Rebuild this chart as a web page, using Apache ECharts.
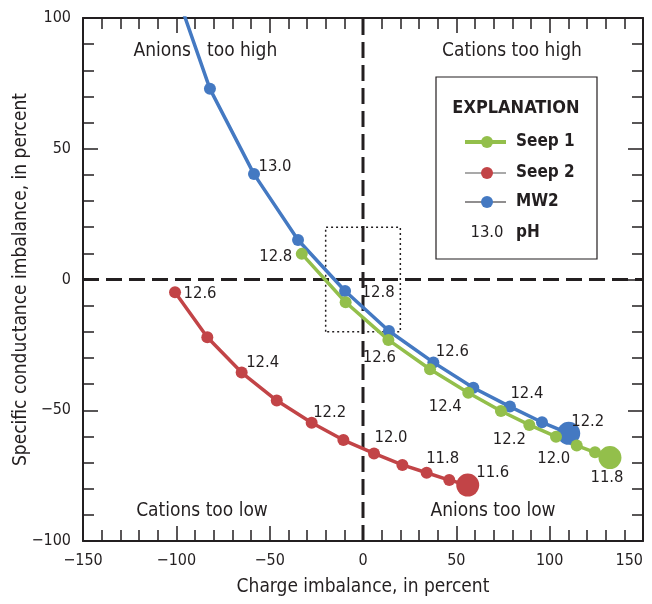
<!DOCTYPE html>
<html>
<head>
<meta charset="utf-8">
<script src="https://cdn.jsdelivr.net/npm/echarts@6/dist/echarts.min.js"></script>
<style>html,body{margin:0;padding:0;background:#fff}#c{width:652px;height:604px}</style>
</head>
<body>
<div id="c"></div>
<script>
// ---- data ----
const xTicks = [-150, -100, -50, 0, 50, 100, 150];
const yTicks = [-100, -50, 0, 50, 100];
const xAxisTitle = 'Charge imbalance, in percent';
const yAxisTitle = 'Specific conductance imbalance, in percent';

const seriesNames = ['Seep 1', 'Seep 2', 'MW2'];

const mw2X = [-104, -82, -58.4, -34.8, -9.6, 13.9, 37.7, 59.1, 78.7, 95.9, 110.2];
const mw2Y = [118, 72.9, 40.3, 15.1, -4.4, -19.7, -31.7, -41.4, -48.6, -54.6, -58.8];
const mw2PH = [null, null, '13.0', null, '12.8', null, '12.6', null, '12.4', null, '12.2'];

const seep1X = [-32.8, -9.3, 13.6, 35.9, 56.4, 73.9, 89.1, 103.4, 114.5, 124.3, 132.3];
const seep1Y = [9.8, -8.7, -23.1, -34.3, -43.3, -50.3, -55.6, -60.1, -63.5, -66.1, -68.1];
const seep1PH = ['12.8', null, '12.6', null, '12.4', null, '12.2', null, '12.0', null, '11.8'];

const seep2X = [-100.7, -83.4, -65.0, -46.2, -27.5, -10.5, 5.9, 21.1, 34.1, 46.2, 56.1];
const seep2Y = [-4.9, -22.1, -35.6, -46.3, -54.8, -61.4, -66.5, -70.9, -73.9, -76.7, -78.6];
const seep2PH = ['12.6', null, '12.4', null, '12.2', null, '12.0', null, '11.8', null, '11.6'];

const zeroV = [[0, -100], [0, 100]];
const zeroH = [[-150, 0], [150, 0]];
const boxCorners = [[-20, -20], [-20, 20], [20, 20], [20, -20], [-20, -20]];

const quadrantTexts = ['Anions', 'too high', 'Cations too high', 'Cations too low', 'Anions too low'];
const legendTitle = 'EXPLANATION';
const legendPHSample = '13.0';
const legendPHText = 'pH';

// ---- styles ----
const FONT = "'Liberation Sans Narrow', 'Arial Narrow', 'DejaVu Sans Condensed', sans-serif";
const INK = '#231f20';
const BLUE = '#4479c2';
const GREEN = '#93bf4b';
const RED = '#c24447';

const labelOffsets = {
  mw2: {2: [21, -7], 4: [33, 2], 6: [19, -11], 8: [17, -13], 10: [19, -12]},
  seep1: {0: [-26, 3], 2: [-9, 18], 4: [-23, 14], 6: [-20, 15], 8: [-23, 13], 10: [-3, 20]},
  seep2: {0: [25, 1], 2: [21, -10], 4: [18, -10], 6: [17, -16], 8: [16, -14], 10: [25, -12]}
};

function buildData(xs, ys, phs, key) {
  return xs.map((x, i) => {
    const item = {value: [x, ys[i]]};
    if (phs[i]) {
      item.label = {
        show: true, formatter: phs[i], position: 'inside',
        offset: labelOffsets[key][i],
        fontFamily: FONT, fontSize: 16.5, color: INK
      };
    }
    return item;
  });
}

function fmt(v) { return String(v).replace('-', '\u2212'); }

function axisCommon(showLabel) {
  return {
    axisLine: {show: true, onZero: false, lineStyle: {color: INK, width: 2}},
    axisTick: {show: true, inside: true, length: 15, lineStyle: {color: INK, width: 1.5}},
    minorTick: {show: true, splitNumber: 5, length: 11, lineStyle: {color: INK, width: 1.5}},
    splitLine: {show: false},
    minorSplitLine: {show: false},
    axisLabel: {show: showLabel, fontFamily: FONT, fontSize: 16, color: INK, margin: 12, formatter: fmt}
  };
}

function lineSeries(name, data, color, width) {
  const last = data.length - 1;
  return {
    name, type: 'line', data, clip: true, smooth: false,
    symbol: 'circle',
    symbolSize: (v, p) => p.dataIndex === last ? 23 : 12,
    itemStyle: {color},
    lineStyle: {color, width},
    emphasis: {disabled: true},
    label: {show: false},
    z: 3
  };
}

const chart = echarts.init(document.getElementById('c'), null, {renderer: 'canvas'});

const xBottom = Object.assign({type: 'value', min: xTicks[0], max: xTicks[xTicks.length - 1], interval: 50, position: 'bottom',
  name: xAxisTitle, nameLocation: 'middle', nameGap: 37, nameMoveOverlap: false,
  nameTextStyle: {fontFamily: FONT, fontSize: 19, color: INK}}, axisCommon(true));
xBottom.axisLabel.alignMaxLabel = 'right';

const option = {
  animation: false,
  backgroundColor: '#fff',
  grid: {left: 83, right: 9, top: 18, bottom: 63, containLabel: false, outerBoundsMode: 'none'},
  xAxis: [
    xBottom,
    Object.assign({type: 'value', min: xTicks[0], max: xTicks[xTicks.length - 1], interval: 50, position: 'top'}, axisCommon(false))
  ],
  yAxis: [
    Object.assign({type: 'value', min: yTicks[0], max: yTicks[yTicks.length - 1], interval: 50, position: 'left',
      name: yAxisTitle, nameLocation: 'middle', nameGap: 52, nameMoveOverlap: false,
      nameTextStyle: {fontFamily: FONT, fontSize: 19, color: INK}}, axisCommon(true)),
    Object.assign({type: 'value', min: yTicks[0], max: yTicks[yTicks.length - 1], interval: 50, position: 'right'}, axisCommon(false))
  ],
  series: [
    {type: 'line', data: zeroH, symbol: 'none', lineStyle: {color: INK, width: 3, type: [16, 7]}, silent: true, z: 1},
    {type: 'line', data: zeroV, symbol: 'none', lineStyle: {color: INK, width: 3, type: [16, 7]}, silent: true, z: 1},
    {type: 'line', data: boxCorners, symbol: 'none', lineStyle: {color: INK, width: 1.5, type: [2, 3]}, silent: true, z: 1},
    lineSeries(seriesNames[1], buildData(seep2X, seep2Y, seep2PH, 'seep2'), RED, 3.5),
    lineSeries(seriesNames[2], buildData(mw2X, mw2Y, mw2PH, 'mw2'), BLUE, 3.5),
    lineSeries(seriesNames[0], buildData(seep1X, seep1Y, seep1PH, 'seep1'), GREEN, 3.5)
  ],
  graphic: [
    {type: 'text', x: 191, y: 51, style: {text: quadrantTexts[0], align: 'right', verticalAlign: 'middle', font: '19px ' + FONT, fill: INK}},
    {type: 'text', x: 207, y: 51, style: {text: quadrantTexts[1], align: 'left', verticalAlign: 'middle', font: '19px ' + FONT, fill: INK}},
    {type: 'text', x: 512, y: 51, style: {text: quadrantTexts[2], align: 'center', verticalAlign: 'middle', font: '19px ' + FONT, fill: INK}},
    {type: 'text', x: 202, y: 511, style: {text: quadrantTexts[3], align: 'center', verticalAlign: 'middle', font: '19px ' + FONT, fill: INK}},
    {type: 'text', x: 493, y: 511, style: {text: quadrantTexts[4], align: 'center', verticalAlign: 'middle', font: '19px ' + FONT, fill: INK}},

    {type: 'rect', shape: {x: 436, y: 77, width: 161, height: 182}, style: {fill: '#fff', stroke: INK, lineWidth: 1.2}, z: 10},
    {type: 'text', x: 516, y: 108, z: 11, style: {text: legendTitle, align: 'center', verticalAlign: 'middle', font: 'bold 18px ' + FONT, fill: INK}},

    {type: 'line', z: 11, shape: {x1: 465, y1: 142, x2: 506, y2: 142}, style: {stroke: GREEN, lineWidth: 4}},
    {type: 'circle', z: 12, shape: {cx: 487, cy: 142, r: 6}, style: {fill: GREEN}},
    {type: 'text', x: 516, y: 142, z: 11, style: {text: seriesNames[0], align: 'left', verticalAlign: 'middle', font: 'bold 17px ' + FONT, fill: INK}},

    {type: 'line', z: 11, shape: {x1: 465, y1: 173, x2: 506, y2: 173}, style: {stroke: '#555', lineWidth: 1.2}},
    {type: 'circle', z: 12, shape: {cx: 487, cy: 173, r: 6}, style: {fill: RED}},
    {type: 'text', x: 516, y: 173, z: 11, style: {text: seriesNames[1], align: 'left', verticalAlign: 'middle', font: 'bold 17px ' + FONT, fill: INK}},

    {type: 'line', z: 11, shape: {x1: 465, y1: 202, x2: 506, y2: 202}, style: {stroke: INK, lineWidth: 1.2}},
    {type: 'circle', z: 12, shape: {cx: 487, cy: 202, r: 6}, style: {fill: BLUE}},
    {type: 'text', x: 516, y: 202, z: 11, style: {text: seriesNames[2], align: 'left', verticalAlign: 'middle', font: 'bold 17px ' + FONT, fill: INK}},

    {type: 'text', x: 487, y: 233, z: 11, style: {text: legendPHSample, align: 'center', verticalAlign: 'middle', font: '16.5px ' + FONT, fill: INK}},
    {type: 'text', x: 516, y: 233, z: 11, style: {text: legendPHText, align: 'left', verticalAlign: 'middle', font: 'bold 17px ' + FONT, fill: INK}}
  ]
};

chart.setOption(option);
</script>
</body>
</html>
